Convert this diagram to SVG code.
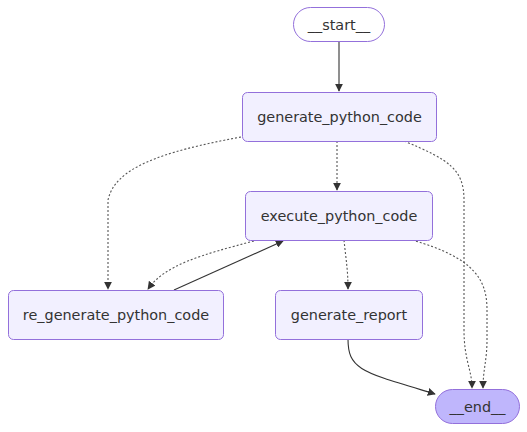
<svg xmlns="http://www.w3.org/2000/svg" width="527" height="432" viewBox="0 0 527 432">
<style>
.node rect{fill:#f2f0ff;stroke:#9370DB;stroke-width:1}
.node.first rect{fill:#fff}
.node.last rect{fill:#bfb6fc}
.node text{font-family:"DejaVu Sans",Verdana,sans-serif;font-size:14.4px;fill:#333;text-anchor:middle;dominant-baseline:central}
.edge{fill:none;stroke:#333;stroke-width:1.1}
.dot{stroke-dasharray:2 2;stroke:#555}
</style>
<defs>
<marker id="ah" viewBox="0 0 10 10" refX="9" refY="5" markerWidth="8" markerHeight="8" markerUnits="userSpaceOnUse" orient="auto">
<path d="M0,0 L10,5 L0,10 z" fill="#333"/>
</marker>
</defs>
<rect width="527" height="432" fill="#fff"/>
<g id="edges">
<path class="edge" d="M339,42 L339,91" marker-end="url(#ah)"/>
<path class="edge dot" d="M241,137 C160,152 115,168 108,200 L108,289" marker-end="url(#ah)"/>
<path class="edge dot" d="M337,141 L337,190" marker-end="url(#ah)"/>
<path class="edge dot" d="M404,141 C450,160 464,170 464,200 L464,330 C464,360 472,370 472,388" marker-end="url(#ah)"/>
<path class="edge dot" d="M258,240 C200,255 165,265 148,289" marker-end="url(#ah)"/>
<path class="edge" d="M174,290 L283,241" marker-end="url(#ah)"/>
<path class="edge dot" d="M344,240 C346,260 348,270 348,289" marker-end="url(#ah)"/>
<path class="edge dot" d="M412,240 C475,258 487,280 487,310 L487,340 C487,360 483,370 483,388" marker-end="url(#ah)"/>
<path class="edge" d="M348,339 C348,370 362,372 435,394" marker-end="url(#ah)"/>
</g>
<g id="start" class="node first">
<rect x="293.5" y="7.5" width="91" height="34" rx="17"/>
<text x="339" y="24.5">__start__</text>
</g>
<g id="generate_python_code" class="node">
<rect x="242.5" y="92.5" width="194" height="49" rx="5"/>
<text x="339.5" y="117">generate_python_code</text>
</g>
<g id="execute_python_code" class="node">
<rect x="245.5" y="191.5" width="187" height="49" rx="5"/>
<text x="339" y="216">execute_python_code</text>
</g>
<g id="re_generate_python_code" class="node">
<rect x="8.5" y="290.5" width="215" height="49" rx="5"/>
<text x="116" y="315">re_generate_python_code</text>
</g>
<g id="generate_report" class="node">
<rect x="275.5" y="290.5" width="147" height="49" rx="5"/>
<text x="349" y="315">generate_report</text>
</g>
<g id="end" class="node last">
<rect x="435.5" y="389.5" width="84" height="34" rx="17"/>
<text x="477.5" y="406.5">__end__</text>
</g>
</svg>
